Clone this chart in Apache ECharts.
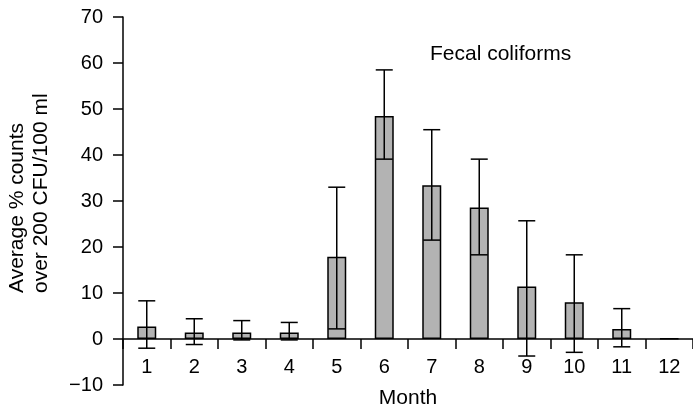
<!DOCTYPE html>
<html>
<head>
<meta charset="utf-8">
<script src="https://cdn.jsdelivr.net/npm/echarts@6/dist/echarts.min.js"></script>
<style>
html,body{margin:0;padding:0;background:#fff;}
#chart{width:693px;height:409px;}
</style>
</head>
<body>
<div id="chart"></div>
<script>
const months = ['1','2','3','4','5','6','7','8','9','10','11','12'];
const means = [2.7, 1.4, 1.4, 1.4, 17.9, 48.5, 33.4, 28.6, 11.4, 8.0, 2.2, 0.1];
const errLow = [-2.0, -1.2, -0.2, -0.2, 2.2, 39.1, 21.5, 18.3, -3.7, -2.9, -1.7, null];
const errHigh = [8.3, 4.4, 4.0, 3.6, 33.0, 58.5, 45.5, 39.1, 25.7, 18.3, 6.6, null];
const yTicks = {min: -10, max: 70, interval: 10};
const titleText = 'Fecal coliforms';
const yLabel = 'Average % counts\nover 200 CFU/100 ml';
const xLabel = 'Month';

const FONT = '"Liberation Sans", Arial, Helvetica, sans-serif';
const chart = echarts.init(document.getElementById('chart'), null, {renderer: 'canvas'});

const errData = months.map((m, i) => errLow[i] == null ? null : [i, errLow[i], errHigh[i]]).filter(d => d);

chart.setOption({
  animation: false,
  backgroundColor: '#fff',
  title: {
    text: titleText, left: 430, top: 44, padding: 0,
    textStyle: {fontFamily: FONT, fontSize: 21, fontWeight: 'normal', color: '#000'}
  },
  grid: {left: 123, right: 0, top: 17, bottom: 24, containLabel: false, outerBoundsMode: 'none'},
  xAxis: {
    type: 'category', data: months,
    name: xLabel, nameLocation: 'middle', nameGap: 3,
    nameTextStyle: {fontFamily: FONT, fontSize: 21, color: '#000'},
    axisLine: {onZero: true, lineStyle: {color: '#000', width: 1.5}},
    axisTick: {show: true, length: 10, alignWithLabel: false, lineStyle: {color: '#000', width: 1.5}},
    axisLabel: {fontFamily: FONT, fontSize: 20, color: '#000', margin: -28, interval: 0},
    splitLine: {show: false}
  },
  yAxis: {
    type: 'value', min: yTicks.min, max: yTicks.max, interval: yTicks.interval,
    axisLine: {show: true, lineStyle: {color: '#000', width: 1.5}},
    axisTick: {show: true, length: 10, lineStyle: {color: '#000', width: 1.5}},
    axisLabel: {fontFamily: FONT, fontSize: 20, color: '#000', margin: 20,
      formatter: v => v < 0 ? '\u2212' + Math.abs(v) : String(v)},
    splitLine: {show: false}
  },
  graphic: [{
    type: 'text', x: 29, y: 293, rotation: Math.PI / 2,
    style: {text: yLabel, fontFamily: FONT, fontSize: 21, fill: '#000',
      textAlign: 'left', textVerticalAlign: 'middle', lineHeight: 24}
  }],
  series: [{
    type: 'bar', data: means, barWidth: 19,
    itemStyle: {color: '#b3b3b3', borderColor: '#000', borderWidth: 1.5},
    z: 2
  }, {
    type: 'custom', data: errData, z: 5,
    renderItem: function (params, api) {
      const x = api.value(0);
      const lo = api.coord([x, api.value(1)]);
      const hi = api.coord([x, api.value(2)]);
      const hw = 8.5;
      const st = {stroke: '#000', lineWidth: 1.5};
      return {type: 'group', children: [
        {type: 'line', shape: {x1: lo[0], y1: lo[1], x2: hi[0], y2: hi[1]}, style: st},
        {type: 'line', shape: {x1: hi[0] - hw, y1: hi[1], x2: hi[0] + hw, y2: hi[1]}, style: st},
        {type: 'line', shape: {x1: lo[0] - hw, y1: lo[1], x2: lo[0] + hw, y2: lo[1]}, style: st}
      ]};
    }
  }]
});
</script>
</body>
</html>
